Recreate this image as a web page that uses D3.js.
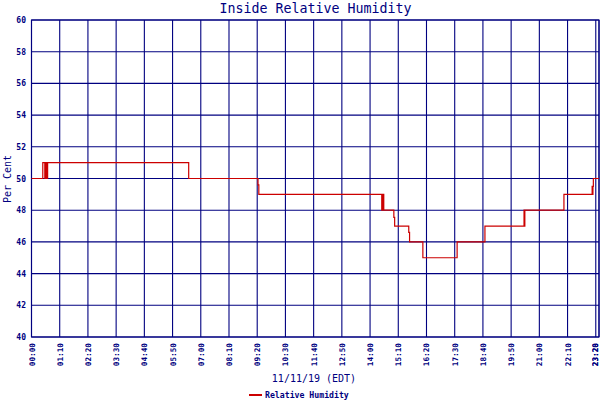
<!DOCTYPE html>
<html><head><meta charset="utf-8">
<script src="https://cdn.jsdelivr.net/npm/d3@7"></script>
<style>body{margin:0;background:#fff}svg{display:block}</style>
</head><body>
<svg id="c" width="600" height="400"></svg>
<script>
const title = "Inside Relative Humidity";
const yLabel = "Per Cent";
const xLabel = "11/11/19 (EDT)";
const seriesName = "Relative Humidity";
const yTicks = [40,42,44,46,48,50,52,54,56,58,60];
const xTickLabels = ["00:00","01:10","02:20","03:30","04:40","05:50","07:00","08:10","09:20","10:30","11:40","12:50","14:00","15:10","16:20","17:30","18:40","19:50","21:00","22:10","23:20","23:28"];
const times = ["00:00","00:28","00:33","00:34","00:36","00:37","00:39","00:40","06:30","09:22","09:24","14:29","14:30","14:31","14:32","14:34","14:59","15:01","15:36","15:38","16:11","17:36","18:45","20:22","20:23","20:24","22:01","23:11","23:12","23:13","23:14","23:28"];
const values = [50,51,50,51,50,51,50,51,50,49.6,49,48,49,48,49,48,47.55,47,46.6,46,45,46,47,48,47,48,49,49.5,49,49.5,50,50];

const toMin = s => { const [h,m] = s.split(":").map(Number); return h*60+m; };
const data = times.map((t,i)=>({t:toMin(t), v:values[i]}));
const navy = "#000080", red = "#cc0000";
const svg = d3.select("#c");
const L=31.5, R=599, T=20, B=337;
const x = d3.scaleLinear().domain([0, toMin(xTickLabels[xTickLabels.length-1])]).range([L,R]);
const y = d3.scaleLinear().domain([40,60]).range([B,T]);

const g = svg.append("g");
g.selectAll("line.h").data(yTicks).join("line")
  .attr("x1",L).attr("x2",R).attr("y1",d=>y(d)).attr("y2",d=>y(d))
  .attr("stroke",navy).attr("stroke-width",1.1);
g.selectAll("line.v").data(xTickLabels).join("line")
  .attr("x1",d=>x(toMin(d))).attr("x2",d=>x(toMin(d))).attr("y1",T).attr("y2",B)
  .attr("stroke",navy).attr("stroke-width",1.1);
g.append("rect").attr("x",L).attr("y",T).attr("width",R-L).attr("height",B-T)
  .attr("fill","none").attr("stroke",navy).attr("stroke-width",1.1);

g.selectAll("text.yt").data(yTicks).join("text")
  .attr("x",26).attr("y",d=>y(d)+3).attr("text-anchor","end")
  .attr("font-family","DejaVu Sans Mono").attr("font-weight","bold").attr("font-size",8)
  .attr("fill",navy).text(d=>d);
g.selectAll("text.xt").data(xTickLabels).join("text")
  .attr("transform",d=>`translate(${Math.min(x(toMin(d))+3, 598)},343) rotate(-90)`)
  .attr("text-anchor","end")
  .attr("font-family","DejaVu Sans Mono").attr("font-weight","bold").attr("font-size",7.7)
  .attr("fill",navy).text(d=>d);

const line = d3.line().x(d=>x(d.t)).y(d=>y(d.v)).curve(d3.curveStepAfter);
g.append("path").datum(data).attr("d",line).attr("fill","none")
  .attr("stroke",red).attr("stroke-width",1.2);

svg.append("text").attr("x",315.5).attr("y",13).attr("text-anchor","middle")
  .attr("font-family","DejaVu Sans Mono").attr("font-size",13.3).attr("fill",navy).text(title);
svg.append("text").attr("transform","translate(11,179) rotate(-90)").attr("text-anchor","middle")
  .attr("font-family","DejaVu Sans Mono").attr("font-size",10).attr("fill",navy).text(yLabel);
svg.append("text").attr("x",314).attr("y",382).attr("text-anchor","middle")
  .attr("font-family","DejaVu Sans Mono").attr("font-size",10).attr("fill",navy).text(xLabel);
svg.append("line").attr("x1",249).attr("x2",262).attr("y1",395).attr("y2",395)
  .attr("stroke",red).attr("stroke-width",2);
svg.append("text").attr("x",265).attr("y",398)
  .attr("font-family","DejaVu Sans Mono").attr("font-weight","bold").attr("font-size",8.2).attr("fill",navy).text(seriesName);
</script>
</body></html>
